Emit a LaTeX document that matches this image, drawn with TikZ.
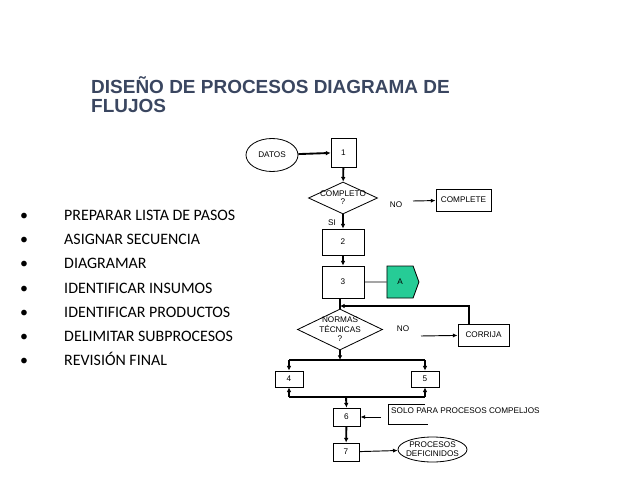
\documentclass[tikz,border=0pt]{standalone}
\usepackage{fontspec}
\setmainfont{Liberation Sans}
\newfontfamily\bulletfont{Carlito}
\usepackage{tikz}
\usetikzlibrary{arrows.meta,shapes.geometric,shapes.symbols}
\definecolor{titleblue}{RGB}{58,70,96}
\definecolor{signalgreen}{RGB}{38,204,150}

\begin{document}
\begin{tikzpicture}
                [
                x=0.03cm,y=-0.03cm,
                every node/.style={font=\fontsize{7}{8}\selectfont},
                box/.style={rectangle,draw,line width=0.7pt},
                decision/.style={diamond,draw,line width=0.7pt,inner sep=0pt},
                terminal/.style={ellipse,draw,line width=0.7pt,inner sep=0pt},
                item/.style={anchor=base west,font=\bulletfont\fontsize{13.6}{16}\selectfont},
                flow/.style={->,line width=1.6pt,>={Latex[length=4pt,width=4pt]}},
                thinflow/.style={->,line width=0.8pt,>={Latex[length=4pt,width=3.5pt]}},
                link/.style={line width=0.8pt}
                ]
            \useasboundingbox (0,0) rectangle (638,479);
            % title
            \node[anchor=base west,text=titleblue,font=\bfseries\fontsize{16.2}{19}\selectfont,inner sep=0pt] (title1) at (91,93.3) {DISEÑO DE PROCESOS DIAGRAMA DE};
            \node[anchor=base west,text=titleblue,font=\bfseries\fontsize{16.2}{19}\selectfont,inner sep=0pt] (title2) at (91,112.7) {FLUJOS};
            % list
            \foreach \txt [count=\i] in {PREPARAR LISTA DE PASOS,ASIGNAR SECUENCIA,DIAGRAMAR,IDENTIFICAR INSUMOS,IDENTIFICAR PRODUCTOS,DELIMITAR SUBPROCESOS,REVISIÓN FINAL}
            {
                \node[item,inner sep=0pt] (dot\i) at (20,196.6+24.1*\i) {•};
                \node[item,inner sep=0pt] (item\i) at (64,196.6+24.1*\i) {\txt};
            }
            % flow chart
            \node[terminal,minimum width=1.56cm,minimum height=0.99cm] (datos) at (272,155) {DATOS};
            \node[box,minimum width=0.75cm,minimum height=0.87cm] (1) at (343.5,152.5) {1};
            \node[decision,minimum width=2.07cm,minimum height=0.96cm,
                  label={[align=center,font=\fontsize{7}{7}\selectfont]center:COMPLETO\\?}] (completo) at (343,198) {};
            \node (no1) at (396,205) {NO};
            \node[box,minimum width=1.65cm,minimum height=0.66cm] (complete) at (463.5,200) {COMPLETE};
            \node (si) at (332,223) {SI};
            \node[box,minimum width=1.26cm,minimum height=0.78cm] (2) at (343,242) {2};
            \node[box,minimum width=1.26cm,minimum height=0.96cm] (3) at (343,282) {3};
            \node[signal,signal to=east,signal pointer angle=140,draw,line width=0.7pt,fill=signalgreen,
                  minimum width=0.96cm,minimum height=0.96cm,inner sep=0pt] (a) at (400,282) {A};
            \node[decision,minimum width=2.55cm,minimum height=1.23cm,
                  label={[align=center,font=\fontsize{7}{8}\selectfont]center:NORMAS\\TÉCNICAS\\?}] (normas) at (340,329.5) {};
            \node (no2) at (403,329) {NO};
            \node[box,minimum width=1.53cm,minimum height=0.66cm] (corrija) at (483.5,335) {CORRIJA};
            \node[box,minimum width=0.84cm,minimum height=0.48cm] (4) at (289,379) {4};
            \node[box,minimum width=0.84cm,minimum height=0.48cm] (5) at (425,379) {5};
            \node[box,minimum width=0.81cm,minimum height=0.54cm] (6) at (346.5,417) {6};
            \node[anchor=west,inner sep=0pt] (solo) at (391,411) {SOLO PARA PROCESOS COMPELJOS};
            \node[box,minimum width=0.78cm,minimum height=0.54cm] (7) at (346,452) {7};
            \node[terminal,minimum width=2.07cm,minimum height=0.75cm,
                  label={[align=center,font=\fontsize{7}{7.6}\selectfont]center:PROCESOS\\DEFICINIDOS}] (procesos) at (432.5,449.5) {};
            \coordinate (nostart1) at (413,201);
            \coordinate (nostart2) at (421,336);
            \coordinate (join) at (340,306);
            \coordinate (split) at (340,360);
            \coordinate (merge) at (346,397);
            \coordinate (note) at (381,417);
            \draw[flow] (datos) -- (1);
            \draw[flow] (1) -- (completo);
            \draw[flow] (completo) -- (2);
            \draw[flow] (2) -- (3);
            \draw[link] (3) -- (a);
            \draw[thinflow] (nostart1) -- (complete);
            \draw[line width=1.6pt] (3.south -| normas.north) -- (normas.north);
            \draw[flow] ([xshift=-0.44cm]corrija.north) |- (join);
            \draw[thinflow] (nostart2) -- (corrija);
            \draw[flow] (normas.south) -- (split);
            \draw[line width=1.6pt] (4.north |- split) -- (5.north |- split);
            \draw[flow] (4.north |- split) -- (4.north);
            \draw[flow] (5.north |- split) -- (5.north);
            \draw[line width=1.6pt] (4.south |- merge) -- (5.south |- merge);
            \draw[flow] (4.south |- merge) -- (4.south);
            \draw[flow] (5.south |- merge) -- (5.south);
            \draw[flow] (merge) -- (6.north);
            \draw[flow] (6) -- (7);
            \draw[thinflow] (note) -- (6);
            \draw[link] ([xshift=1.02cm,yshift=0.21cm]solo.west) -- ([xshift=-0.09cm,yshift=0.21cm]solo.west) -- ([xshift=-0.09cm,yshift=-0.39cm]solo.west) -- ([xshift=1.11cm,yshift=-0.39cm]solo.west);
            \draw[thinflow] (7) -- (procesos);
            \end{tikzpicture}
\end{document}
